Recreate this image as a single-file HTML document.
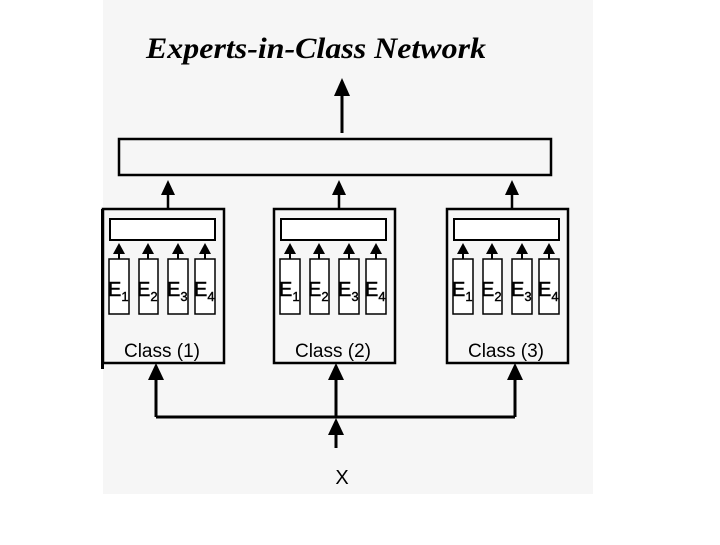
<!DOCTYPE html>
<html><head><style>
body{margin:0;width:720px;height:540px;background:#fff;overflow:hidden}
</style></head><body>
<svg width="720" height="540" xmlns="http://www.w3.org/2000/svg" font-family="Liberation Sans, sans-serif">
<rect x="103" y="0" width="490" height="494" fill="#f6f6f6"/>
<text x="146" y="58" font-family="Liberation Serif, serif" font-style="italic" font-weight="bold" font-size="30" textLength="340" lengthAdjust="spacingAndGlyphs">Experts-in-Class Network</text>
<g stroke="#000" fill="none" stroke-width="3">
<rect x="119" y="139" width="432" height="36" stroke-width="2.5"/>
<line x1="342" y1="133" x2="342" y2="92"/>
<line x1="156" y1="417" x2="515" y2="417"/>
<line x1="156" y1="417" x2="156" y2="378"/>
<line x1="336" y1="417" x2="336" y2="378"/>
<line x1="515" y1="417" x2="515" y2="378"/>
<line x1="336" y1="448" x2="336" y2="432"/>
</g>
<g fill="#000">
<polygon points="342,78 334,96 350,96"/>
<polygon points="156,363 148,380 164,380"/>
<polygon points="336,363 328,380 344,380"/>
<polygon points="515,363 507,380 523,380"/>
<polygon points="336,418 328,435 344,435"/>
</g>
<text x="342" y="484" font-size="20" text-anchor="middle">X</text>
<g id="c">
<rect x="103" y="209" width="121" height="154" fill="none" stroke="#000" stroke-width="2.5"/>
<line x1="168" y1="208" x2="168" y2="190" stroke="#000" stroke-width="2.5"/>
<polygon points="168,180 161,195 175,195" fill="#000"/>
<rect x="110" y="219" width="105" height="21" fill="#fff" stroke="#000" stroke-width="2"/>
<g stroke="#000" stroke-width="1.5" fill="#fff">
<rect x="109" y="259" width="20" height="55"/><rect x="139" y="259" width="19" height="55"/>
<rect x="168" y="259" width="20" height="55"/><rect x="195" y="259" width="20" height="55"/>
</g>
<g fill="#000">
<polygon points="119,243 113,254 125,254"/><polygon points="148,243 142,254 154,254"/>
<polygon points="178,243 172,254 184,254"/><polygon points="205,243 199,254 211,254"/>
<rect x="118" y="253" width="2" height="6"/><rect x="147" y="253" width="2" height="6"/><rect x="177" y="253" width="2" height="6"/><rect x="204" y="253" width="2" height="6"/>
</g>
<g font-size="20" stroke="#000" stroke-width="0.4">
<text x="108" y="296">E<tspan font-size="13" dy="5">1</tspan></text>
<text x="137" y="296">E<tspan font-size="13" dy="5">2</tspan></text>
<text x="167" y="296">E<tspan font-size="13" dy="5">3</tspan></text>
<text x="194" y="296">E<tspan font-size="13" dy="5">4</tspan></text>
</g>
</g>
<use href="#c" x="171"/>
<use href="#c" x="344"/>
<rect x="110" y="335" width="110" height="25" fill="#f6f6f6"/>
<rect x="281" y="335" width="110" height="25" fill="#f6f6f6"/>
<rect x="454" y="335" width="110" height="25" fill="#f6f6f6"/>
<g font-size="19" text-anchor="middle">
<text x="162" y="357">Class (1)</text>
<text x="333" y="357">Class (2)</text>
<text x="506" y="357">Class (3)</text>
</g>
<rect x="101" y="209" width="3" height="160" fill="#000"/>
</svg>
</body></html>
